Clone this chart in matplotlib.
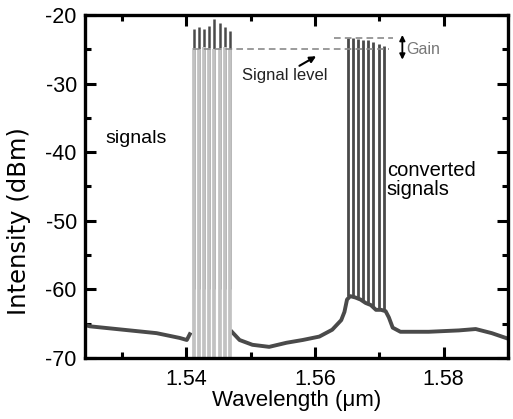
import matplotlib
matplotlib.use("Agg")
import matplotlib.pyplot as plt
from matplotlib.ticker import MultipleLocator

plt.rcParams["font.family"] = ["Liberation Sans", "DejaVu Sans"]

# background (ASE) level of the output spectrum
base_left_x = [1.5243, 1.5250, 1.5302, 1.5354, 1.5390, 1.5401, 1.5407]
base_left_y = [-65.2, -65.4, -65.9, -66.4, -67.1, -67.4, -66.3]
base_right_x = [1.5469, 1.5475, 1.5483, 1.5503, 1.5529, 1.5556, 1.5581, 1.5607,
                1.5627, 1.5641, 1.5646, 1.5650, 1.5655, 1.5663, 1.5671, 1.5679,
                1.5687, 1.5695, 1.5703, 1.5710, 1.5715, 1.5721, 1.5733, 1.5777,
                1.5824, 1.5850, 1.5875, 1.5900]
base_right_y = [-66.0, -66.6, -67.4, -68.1, -68.4, -67.8, -67.4, -66.9,
                -65.9, -64.5, -63.3, -61.5, -61.0, -61.2, -61.5, -62.0,
                -62.3, -63.0, -63.0, -63.2, -64.1, -65.6, -66.2, -66.2,
                -66.0, -65.8, -66.4, -67.2]

# input signal channels
sig_x = [1.5412, 1.5420, 1.5428, 1.5436, 1.5444, 1.5452, 1.5460, 1.5468]
sig_in = [-24.8, -24.9, -24.7, -24.8, -24.9, -24.8, -24.7, -24.9]
sig_out = [-22.0, -21.7, -22.0, -21.6, -20.6, -21.2, -21.8, -22.3]

# converted (idler) channels
conv_x = [1.5651, 1.5659, 1.5667, 1.5675, 1.5683, 1.5691, 1.5699, 1.5707]
conv_out = [-23.3, -23.4, -23.5, -23.6, -23.7, -23.9, -24.2, -24.5]
conv_floor = [-61.0, -61.1, -61.3, -61.7, -62.1, -62.6, -63.0, -63.1]

signal_level = -25.0
gain_level = -23.3

dark = "#4a4a4a"
light = "#c2c2c2"
dash = "#8a8a8a"

fig = plt.figure(figsize=(5.13, 4.19), dpi=100)
ax = fig.add_axes([0.166, 0.146, 0.824, 0.818])

# output spectrum
ax.plot(base_left_x, base_left_y, color=dark, lw=2.8, solid_capstyle="butt")
ax.plot(base_right_x, base_right_y, color=dark, lw=2.8, solid_capstyle="butt")
ax.vlines(sig_x, -60, sig_out, color=dark, lw=1.8)
ax.vlines(conv_x, conv_floor, conv_out, color=dark, lw=2.0)

# input signals on top
ax.vlines(sig_x, -70, sig_in, color=light, lw=2.7)

# reference levels
ax.plot([1.5410, 1.5716], [signal_level, signal_level], color=dash, lw=1.2,
        dashes=(4, 2.5))
ax.plot([1.5629, 1.5722], [gain_level, gain_level], color=dash, lw=1.2,
        dashes=(4, 2.5))

ax.annotate("", xy=(1.5736, -22.9), xytext=(1.5736, -26.5),
            arrowprops=dict(arrowstyle="<|-|>", color="black", lw=1.3,
                            mutation_scale=8, shrinkA=0, shrinkB=0))
ax.text(1.5742, -25.0, "Gain", color="#777777", fontsize=11.5, va="center",
        ha="left")

ax.annotate("", xy=(1.5602, -26.0), xytext=(1.5576, -27.4),
            arrowprops=dict(arrowstyle="-|>", color="black", lw=1.5,
                            mutation_scale=9, shrinkA=0, shrinkB=0))
ax.text(1.5486, -28.8, "Signal level", fontsize=12, va="center", ha="left",
        color="#222222")

ax.text(1.5274, -38.0, "signals", fontsize=14, va="center", ha="left")
ax.text(1.5712, -44.0, "converted\nsignals", fontsize=14.5, va="center",
        ha="left", linespacing=1.0)

ax.set_xlim(1.5243, 1.5900)
ax.set_ylim(-70, -20)
ax.xaxis.set_major_locator(MultipleLocator(0.02))
ax.xaxis.set_minor_locator(MultipleLocator(0.01))
ax.yaxis.set_major_locator(MultipleLocator(10))
ax.yaxis.set_minor_locator(MultipleLocator(5))
ax.xaxis.set_major_formatter(plt.FuncFormatter(lambda v, p: f"{v:.2f}"))
ax.yaxis.set_major_formatter(plt.FuncFormatter(lambda v, p: f"{v:.0f}"))

for s in ax.spines.values():
    s.set_linewidth(2.4)
ax.tick_params(which="both", direction="in", top=True, right=True,
               labelsize=15.5, width=2.2)
ax.tick_params(which="major", length=8, pad=6)
ax.tick_params(axis="x", which="major", pad=8)
ax.tick_params(which="minor", length=4.5)

ax.set_xlabel("Wavelength (\u03bcm)", fontsize=16, labelpad=0)
ax.set_ylabel("Intensity (dBm)", fontsize=17.5, family="DejaVu Sans")
ax.yaxis.set_label_coords(-0.127, 0.40)

fig.savefig("out.png", dpi=100)
